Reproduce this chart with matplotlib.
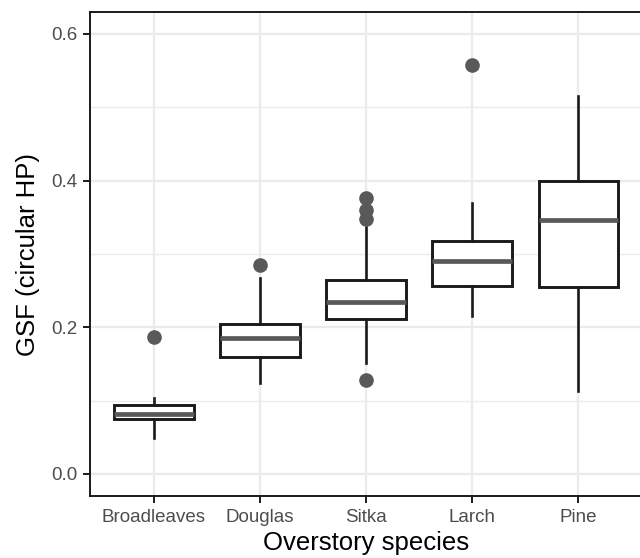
import matplotlib
matplotlib.use("Agg")
import matplotlib.pyplot as plt
from matplotlib.ticker import MultipleLocator, FormatStrFormatter

plt.rcParams['font.family'] = ['Liberation Sans', 'DejaVu Sans']

species = ["Broadleaves", "Douglas", "Sitka", "Larch", "Pine"]
# box stats
whis_lo = [0.049, 0.124, 0.151, 0.216, 0.113]
q1 = [0.075, 0.160, 0.212, 0.256, 0.255]
med = [0.082, 0.185, 0.235, 0.291, 0.347]
q3 = [0.094, 0.205, 0.264, 0.318, 0.399]
whis_hi = [0.103, 0.267, 0.337, 0.369, 0.515]
outliers = [[0.187], [0.285], [0.376, 0.360, 0.348, 0.128], [0.558], []]

stats = []
for i, name in enumerate(species):
    stats.append(dict(label=name, whislo=whis_lo[i], q1=q1[i], med=med[i],
                      q3=q3[i], whishi=whis_hi[i], fliers=outliers[i]))

fig = plt.figure(figsize=(6.4, 5.58), dpi=100)
ax = fig.add_axes([90/640, 62/558, 552/640, 484/558])

ax.bxp(stats, positions=range(1, 6), widths=0.75, showcaps=False,
       patch_artist=True,
       boxprops=dict(facecolor="white", edgecolor="#1a1a1a", linewidth=2.1),
       whiskerprops=dict(color="#1a1a1a", linewidth=1.9),
       medianprops=dict(color="#595959", linewidth=3.4, solid_capstyle="butt"),
       flierprops=dict(marker="o", markerfacecolor="#595959",
                       markeredgecolor="#595959", markersize=9.5),
       zorder=3)

ax.set_xlim(0.4, 5.6)
ax.set_ylim(-0.03, 0.63)
ax.yaxis.set_major_locator(MultipleLocator(0.2))
ax.yaxis.set_minor_locator(MultipleLocator(0.1))
ax.yaxis.set_major_formatter(FormatStrFormatter("%.1f"))

ax.grid(True, which="major", color="#EBEBEB", linewidth=1.6, zorder=0)
ax.grid(True, which="minor", axis="y", color="#EBEBEB", linewidth=1.0, zorder=0)
ax.set_axisbelow(True)

for sp in ax.spines.values():
    sp.set_color("#1a1a1a")
    sp.set_linewidth(1.4)

ax.tick_params(axis="both", which="major", length=5, width=1.4, color="#1a1a1a",
               labelsize=13.5, labelcolor="#4D4D4D", pad=4)
ax.tick_params(axis="y", which="minor", length=0)

ax.set_xlabel("Overstory species", fontsize=18.5, color="black", labelpad=4)
ax.set_ylabel("GSF (circular HP)", fontsize=18.5, color="black", labelpad=8)

fig.savefig("out.png", dpi=100)
